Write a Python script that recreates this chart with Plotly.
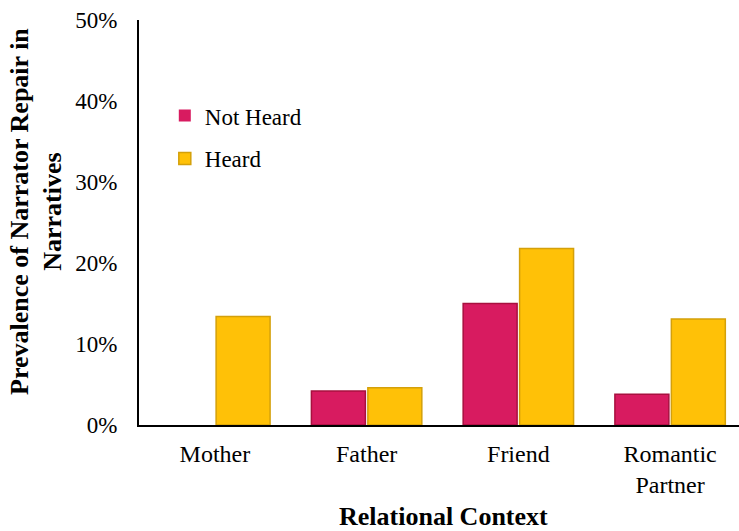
import plotly.graph_objects as go

# Relational contexts and prevalence (%) of narrator repair
categories = ["Mother", "Father", "Friend", "Romantic<br>Partner"]
not_heard = [0.0, 4.2, 15.0, 3.8]
heard = [13.4, 4.6, 21.8, 13.1]
y_ticks = [0, 10, 20, 30, 40, 50]
y_tick_labels = ["0%", "10%", "20%", "30%", "40%", "50%"]

serif = "Liberation Serif"

# zero-height bars get no outline so nothing is drawn for them
def outline_widths(values):
    return [1.5 if v > 0 else 0 for v in values]

fig = go.Figure()
fig.add_trace(go.Bar(
    name="Not Heard", x=categories, y=not_heard, legendgroup="nh",
    marker=dict(color="#D81B60",
                line=dict(color="#A8103F", width=outline_widths(not_heard))),
))
fig.add_trace(go.Bar(
    name="Heard", x=categories, y=heard, legendgroup="h",
    marker=dict(color="#FFC107",
                line=dict(color="#D4A00A", width=outline_widths(heard))),
))

fig.update_layout(
    width=739, height=531,
    margin=dict(l=139, r=0, t=20, b=106),
    paper_bgcolor="white", plot_bgcolor="white",
    barmode="group", bargap=0.256, bargroupgap=0.044,
    font=dict(family=serif, size=23, color="black"),
    showlegend=True,
    legend=dict(
        x=0.043, y=0.817, xanchor="left", yanchor="top",
        traceorder="grouped", tracegroupgap=10, itemwidth=30,
        font=dict(family=serif, size=23, color="black"),
        bgcolor="rgba(0,0,0,0)",
    ),
    xaxis=dict(
        range=[-0.5, 3.454], showline=True, linecolor="black", linewidth=2,
        ticks="", showgrid=False, zeroline=False,
        ticklabelstandoff=6,
        tickfont=dict(family=serif, size=24, color="black"),
    ),
    yaxis=dict(
        range=[0, 50], tickvals=y_ticks, ticktext=y_tick_labels,
        showline=True, linecolor="black", linewidth=2,
        ticks="", showgrid=False, zeroline=False,
        ticklabelstandoff=15,
        tickfont=dict(family=serif, size=23, color="black"),
    ),
    annotations=[
        dict(text="<b>Relational Context</b>", xref="paper", yref="paper",
             x=0.507, y=-0.227, xanchor="center", yanchor="middle",
             showarrow=False, font=dict(family=serif, size=26, color="black")),
        dict(text="<b>Prevalence of Narrator Repair in<br>Narratives</b>",
             xref="paper", yref="paper", x=-0.172, y=0.528,
             xanchor="center", yanchor="middle", textangle=-90,
             showarrow=False, font=dict(family=serif, size=26, color="black")),
    ],
)

fig.write_html("out.html")
